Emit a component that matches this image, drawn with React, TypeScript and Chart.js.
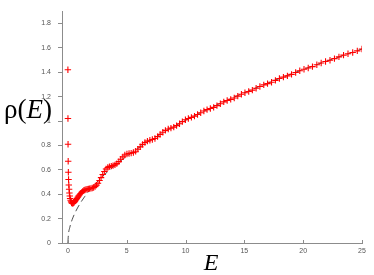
import React, { useEffect, useRef } from "react";
import { Chart, registerables } from "chart.js";

Chart.register(...registerables);

// Energy samples (E) and density of states rho(E)
const energy = [
  0.0016, 0.0064, 0.0144, 0.0256, 0.04, 0.0576, 0.0784, 0.1024, 0.1296, 0.16,
  0.19, 0.23, 0.27, 0.31, 0.36, 0.41, 0.46, 0.52, 0.58, 0.64,
  0.71, 0.77, 0.85, 0.92, 1.0, 1.08, 1.17, 1.25, 1.35, 1.44,
  1.54, 1.64, 1.74, 1.85, 1.96, 2.07, 2.19, 2.31, 2.43, 2.56,
  2.69, 2.82, 2.96, 3.1, 3.24, 3.39, 3.53, 3.69, 3.84, 4.0,
  4.16, 4.33, 4.49, 4.67, 4.84, 5.02, 5.2, 5.38, 5.57, 5.76,
  5.95, 6.15, 6.35, 6.55, 6.76, 6.97, 7.18, 7.4, 7.62, 7.84,
  8.07, 8.29, 8.53, 8.76, 9.0, 9.24, 9.49, 9.73, 9.99, 10.24,
  10.5, 10.76, 11.02, 11.29, 11.56, 11.83, 12.11, 12.39, 12.67, 12.96,
  13.25, 13.54, 13.84, 14.14, 14.44, 14.75, 15.05, 15.37, 15.68, 16.0,
  16.32, 16.65, 16.97, 17.31, 17.64, 17.98, 18.32, 18.66, 19.01, 19.36,
  19.71, 20.07, 20.43, 20.79, 21.16, 21.53, 21.9, 22.28, 22.66, 23.04,
  23.43, 23.81, 24.21, 24.6, 25.0,
];

const rho = [
  1.42, 1.02, 0.81, 0.67, 0.58, 0.52, 0.475, 0.44, 0.41, 0.385,
  0.365, 0.35, 0.338, 0.33, 0.326, 0.325, 0.327, 0.332, 0.339, 0.347,
  0.356, 0.366, 0.376, 0.386, 0.396, 0.406, 0.415, 0.423, 0.43, 0.435,
  0.439, 0.442, 0.444, 0.446, 0.448, 0.451, 0.455, 0.462, 0.474, 0.49,
  0.512, 0.536, 0.562, 0.586, 0.606, 0.619, 0.626, 0.63, 0.634, 0.64,
  0.651, 0.667, 0.687, 0.706, 0.721, 0.73, 0.734, 0.737, 0.742, 0.752,
  0.768, 0.788, 0.808, 0.824, 0.835, 0.842, 0.848, 0.857, 0.872, 0.89,
  0.908, 0.923, 0.934, 0.942, 0.95, 0.962, 0.978, 0.995, 1.01, 1.021,
  1.03, 1.04, 1.053, 1.068, 1.082, 1.093, 1.102, 1.112, 1.126, 1.142,
  1.157, 1.168, 1.177, 1.189, 1.204, 1.219, 1.232, 1.242, 1.253, 1.268,
  1.283, 1.296, 1.306, 1.318, 1.333, 1.348, 1.36, 1.37, 1.382, 1.397,
  1.412, 1.424, 1.434, 1.446, 1.461, 1.476, 1.488, 1.498, 1.511, 1.526,
  1.54, 1.551, 1.562, 1.575, 1.59,
];

// Smooth (dashed) reference curve
const smoothE = [0, 0.04, 0.16, 0.36, 0.64, 1.0, 1.44, 1.96, 2.56, 3.24, 4.0, 6.25, 9.0, 12.25, 16.0, 20.25, 25.0];
const smoothRho = [0, 0.064, 0.127, 0.191, 0.254, 0.318, 0.382, 0.445, 0.509, 0.572, 0.636, 0.795, 0.954, 1.113, 1.272, 1.431, 1.59];

const xTicks = [0, 5, 10, 15, 20, 25];
const yTicks = [0, 0.2, 0.4, 0.6, 0.8, 1, 1.2, 1.4, 1.6, 1.8];

const AXIS_COLOR = "#8c8c8c";
const TICK_LABEL_COLOR = "#555555";

const labelsPlugin = {
  id: "customLabels",
  afterDraw(chart: any) {
    const ctx = chart.ctx;
    const xs = chart.scales.x;
    const area = chart.chartArea;
    ctx.save();
    // inward x tick marks
    ctx.strokeStyle = AXIS_COLOR;
    ctx.lineWidth = 1;
    xTicks.forEach((v) => {
      const px = Math.round(xs.getPixelForValue(v)) + 0.5;
      ctx.beginPath();
      ctx.moveTo(px, area.bottom);
      ctx.lineTo(px, area.bottom - 3);
      ctx.stroke();
    });
    // y title: rho(E)
    ctx.fillStyle = "#000000";
    ctx.textBaseline = "alphabetic";
    ctx.textAlign = "left";
    let x = 4;
    const base = 118;
    ctx.font = "27px 'Liberation Serif', serif";
    ctx.fillText("ρ(", x, base);
    x += ctx.measureText("ρ(").width;
    ctx.font = "italic 27px 'Liberation Serif', serif";
    ctx.fillText("E", x, base);
    x += ctx.measureText("E").width;
    ctx.font = "27px 'Liberation Serif', serif";
    ctx.fillText(")", x, base);
    // x title: E
    ctx.font = "italic 24px 'Liberation Serif', serif";
    ctx.textAlign = "center";
    ctx.fillText("E", 211, 270);
    ctx.restore();
  },
};

export default function App() {
  const ref = useRef<HTMLCanvasElement | null>(null);

  useEffect(() => {
    document.body.style.margin = "0";
    const canvas = ref.current;
    if (!canvas) return;
    const points = energy.map((e, i) => ({ x: e, y: rho[i] }));
    const smooth = smoothE.map((e, i) => ({ x: e, y: smoothRho[i] }));
    const chart = new Chart(canvas, {
      type: "scatter",
      data: {
        datasets: [
          {
            type: "scatter",
            data: points,
            pointStyle: "cross",
            pointRadius: 3.2,
            pointBorderWidth: 1.1,
            borderColor: "#ff0000",
            backgroundColor: "#ff0000",
            order: 1,
          } as any,
          {
            type: "line",
            data: smooth,
            borderColor: "#222222",
            borderWidth: 0.8,
            borderDash: [7, 4],
            pointRadius: 0,
            cubicInterpolationMode: "monotone",
            fill: false,
            order: 2,
          } as any,
        ],
      },
      options: {
        responsive: false,
        animation: false,
        devicePixelRatio: 1,
        layout: { padding: { left: 0, top: 6, right: 12, bottom: 0 } },
        plugins: { legend: { display: false }, tooltip: { enabled: false } },
        scales: {
          x: {
            type: "linear",
            min: -0.5,
            max: 25,
            afterBuildTicks: (s: any) => {
              s.ticks = xTicks.map((v) => ({ value: v }));
            },
            afterFit: (s: any) => {
              s.height = 32;
            },
            grid: { display: false, drawTicks: false, tickLength: 0 },
            border: { display: true, color: AXIS_COLOR, width: 1 },
            ticks: {
              padding: 4,
              color: TICK_LABEL_COLOR,
              font: { family: "'Liberation Sans', Arial, sans-serif", size: 7 },
              maxRotation: 0,
              autoSkip: false,
            },
          },
          y: {
            type: "linear",
            min: 0,
            max: 1.9,
            afterBuildTicks: (s: any) => {
              s.ticks = yTicks.map((v) => ({ value: v }));
            },
            afterFit: (s: any) => {
              s.width = 62;
            },
            grid: {
              display: true,
              drawOnChartArea: false,
              drawTicks: true,
              tickLength: 4,
              color: AXIS_COLOR,
            },
            border: { display: true, color: AXIS_COLOR, width: 1 },
            ticks: {
              padding: 7,
              color: TICK_LABEL_COLOR,
              font: { family: "'Liberation Sans', Arial, sans-serif", size: 7 },
              autoSkip: false,
              callback: (v: any) => String(Math.round(Number(v) * 10) / 10),
            },
          },
        },
      } as any,
      plugins: [labelsPlugin],
    });
    return () => chart.destroy();
  }, []);

  return <canvas ref={ref} width={374} height={275} style={{ display: "block" }} />;
}
